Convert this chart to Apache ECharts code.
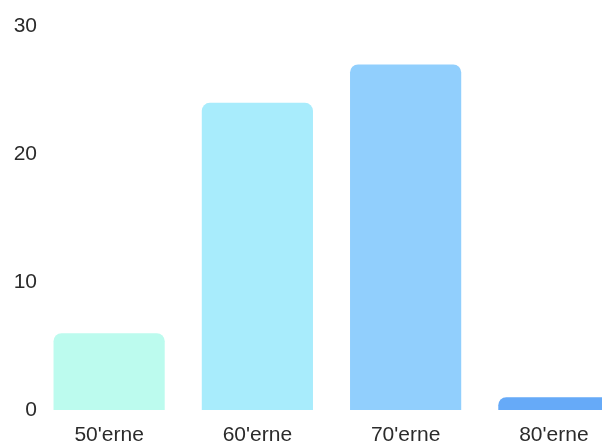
<!DOCTYPE html>
<html>
<head>
<meta charset="utf-8">
<script src="https://cdn.jsdelivr.net/npm/echarts@6/dist/echarts.min.js"></script>
<style>
  html, body { margin: 0; padding: 0; background: #fff; }
  #main { width: 602px; height: 446px; }
</style>
</head>
<body>
<div id="main"></div>
<script>
// data
var categories = ["50'erne", "60'erne", "70'erne", "80'erne"];
var values = [6, 24, 27, 1];
var barColors = ["#bcfbee", "#a8ecfc", "#91cffd", "#66aaf8"];

var chartDom = document.getElementById("main");
var myChart = echarts.init(chartDom);

var option = {
  animation: false,
  // grid runs past the right edge: the last bar is cut off in the original
  grid: { left: 35, width: 593, top: 26, bottom: 36, outerBoundsMode: "none", containLabel: false },
  xAxis: {
    type: "category",
    data: categories,
    axisLine: { show: false },
    axisTick: { show: false },
    axisLabel: { color: "#2b2b2b", fontSize: 21, margin: 15, fontFamily: "Liberation Sans" }
  },
  yAxis: {
    type: "value",
    min: 0,
    max: 30,
    interval: 10,
    splitLine: { show: false },
    axisLine: { show: false },
    axisTick: { show: false },
    axisLabel: { color: "#2b2b2b", fontSize: 21, margin: -2, fontFamily: "Liberation Sans" }
  },
  series: [
    {
      type: "bar",
      barWidth: "75%",
      data: values.map(function (v, i) {
        return { value: v, itemStyle: { color: barColors[i] } };
      }),
      itemStyle: { borderRadius: [8, 8, 0, 0] }
    }
  ]
};

myChart.setOption(option);
</script>
</body>
</html>
